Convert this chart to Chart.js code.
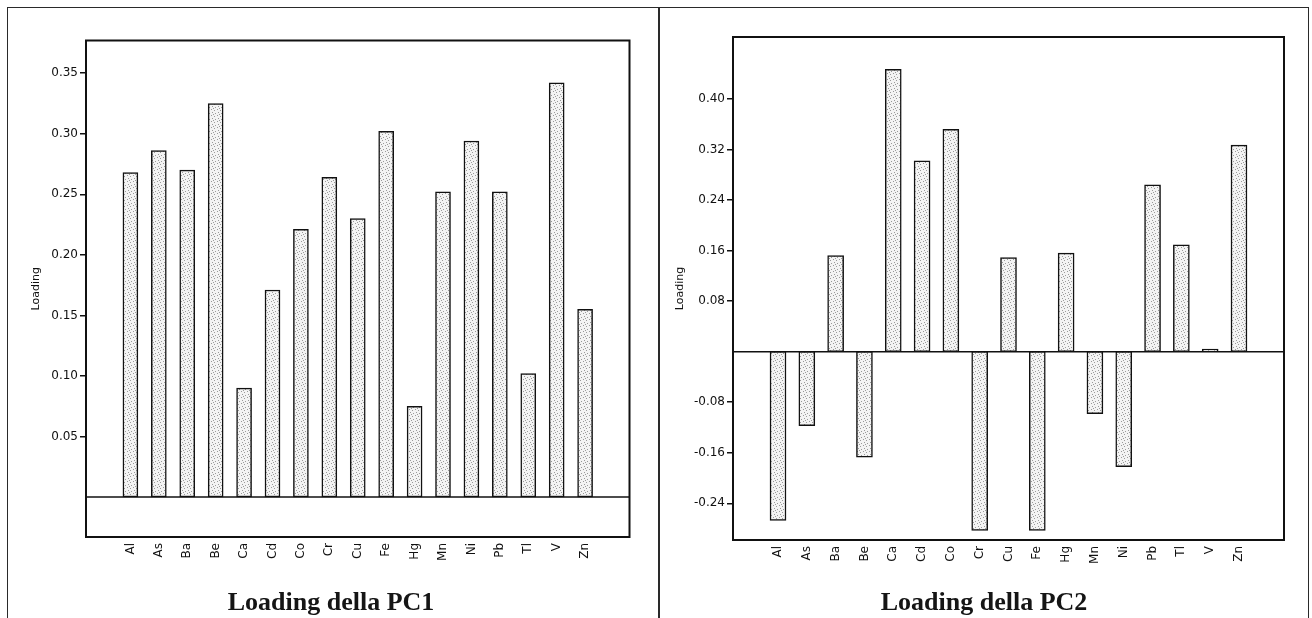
<!DOCTYPE html>
<html>
<head>
<meta charset="utf-8">
<script src="https://cdn.jsdelivr.net/npm/chart.js@4.4.0/dist/chart.umd.min.js"></script>
<style>
    html, body { margin: 0; padding: 0; background: #fff; }
    body { width: 1312px; height: 618px; position: relative; overflow: hidden; }
    .frame { position: absolute; left: 7px; top: 7px; width: 1302px; height: 700px; border: 1.5px solid #2a2a2a; box-sizing: border-box; }
    .divider { position: absolute; left: 658px; top: 7px; width: 1.5px; height: 611px; background: #2a2a2a; }
    canvas { position: absolute; top: 7px; }
    .title {
        position: absolute; top: 589px; line-height: 26px;
        font-family: "Liberation Serif", serif; font-weight: bold; font-size: 26px;
        color: #151515; transform: translateX(-50%); white-space: nowrap;
    }
</style>
</head>
<body>
<div class="frame"></div>
<div class="divider"></div>
<canvas id="pc1" width="651" height="611" style="left:7px"></canvas>
<canvas id="pc2" width="651" height="611" style="left:659px"></canvas>
<div class="title" style="left:331px">Loading della PC1</div>
<div class="title" style="left:984px">Loading della PC2</div>

<script>
// elements (x categories)
const elements = ['Al', 'As', 'Ba', 'Be', 'Ca', 'Cd', 'Co', 'Cr', 'Cu', 'Fe', 'Hg', 'Mn', 'Ni', 'Pb', 'Tl', 'V', 'Zn'];

// loadings
const pc1 = [0.268, 0.286, 0.270, 0.325, 0.090, 0.171, 0.221, 0.264, 0.230, 0.302, 0.075, 0.252, 0.294, 0.252, 0.102, 0.342, 0.155];
const pc2 = [-0.267, -0.117, 0.152, -0.167, 0.447, 0.302, 0.352, -0.283, 0.149, -0.283, 0.156, -0.098, -0.182, 0.264, 0.169, 0.004, 0.327];

// y tick labels
const yTicks1 = [0.05, 0.10, 0.15, 0.20, 0.25, 0.30, 0.35];
const yTicks2 = [-0.24, -0.16, -0.08, 0.08, 0.16, 0.24, 0.32, 0.40];

const INK = '#111';
const TICK_FONT = { family: '"DejaVu Sans", sans-serif', size: 12 };

/**
 * Light stippled fill like the printed bars
 */
function stipple() {
    const c = document.createElement('canvas');
    c.width = 6;
    c.height = 6;
    const g = c.getContext('2d');
    g.fillStyle = '#f3f3f3';
    g.fillRect(0, 0, 6, 6);
    g.fillStyle = '#9a9a9a';
    [[0, 0], [3, 1], [1, 3], [4, 4], [2, 5]].forEach(([x, y]) => g.fillRect(x, y, 1, 1));
    return g.createPattern(c, 'repeat');
}

// frame round the plot area and the zero line
const framePlugin = {
    id: 'frame',
    beforeDatasetsDraw(chart) {
        const { ctx, chartArea: a, scales: { y } } = chart;
        const y0 = y.getPixelForValue(0);
        ctx.save();
        ctx.strokeStyle = INK;
        ctx.lineWidth = 1.5;
        ctx.beginPath();
        ctx.moveTo(a.left, y0);
        ctx.lineTo(a.right, y0);
        ctx.stroke();
        ctx.restore();
    },
    afterDraw(chart) {
        const { ctx, chartArea: a } = chart;
        ctx.save();
        ctx.strokeStyle = INK;
        ctx.lineWidth = 2;
        ctx.strokeRect(a.left, a.top, a.right - a.left, a.bottom - a.top);
        ctx.restore();
    },
};

function makeChart(id, values, yTicks, opts) {
    return new Chart(document.getElementById(id), {
        type: 'bar',
        data: {
            datasets: [{
                data: values.map((v, i) => ({ x: i + 1, y: v })),
                backgroundColor: stipple(),
                borderColor: INK,
                borderWidth: 1.5,
                borderSkipped: false,
                barThickness: opts.barWidth,
            }],
        },
        options: {
            responsive: false,
            devicePixelRatio: 1,
            animation: false,
            layout: { padding: { left: 0, top: opts.top, right: opts.right, bottom: 0 } },
            plugins: { legend: { display: false }, tooltip: { enabled: false } },
            scales: {
                x: {
                    type: 'linear',
                    min: 0,
                    max: elements.length + 1,
                    afterBuildTicks: (s) => { s.ticks = elements.map((_, i) => ({ value: i + 1 })); },
                    afterFit: (s) => { s.height = opts.xHeight; },
                    grid: { display: false, drawTicks: false },
                    border: { display: false },
                    ticks: {
                        callback: (v) => elements[v - 1],
                        minRotation: 90,
                        maxRotation: 90,
                        padding: 6,
                        autoSkip: false,
                        font: TICK_FONT,
                        color: INK,
                    },
                },
                y: {
                    min: opts.min,
                    max: opts.max,
                    afterBuildTicks: (s) => { s.ticks = yTicks.map((v) => ({ value: v })); },
                    afterFit: (s) => { s.width = opts.yWidth; },
                    grid: { drawOnChartArea: false, tickLength: 6, color: INK, lineWidth: 1.5 },
                    border: { display: false },
                    ticks: {
                        callback: (v) => v.toFixed(2),
                        padding: 2,
                        font: TICK_FONT,
                        color: INK,
                    },
                    title: {
                        display: true,
                        text: 'Loading',
                        color: INK,
                        font: { family: '"DejaVu Sans", sans-serif', size: 11 },
                        padding: { top: opts.titlePad, bottom: 0 },
                    },
                },
            },
        },
        plugins: [framePlugin],
    });
}

makeChart('pc1', pc1, yTicks1, {
    min: -0.033, max: 0.377, top: 33.5, right: 28.5, xHeight: 81, yWidth: 79, titlePad: 23, barWidth: 15,
});
makeChart('pc2', pc2, yTicks2, {
    min: -0.298, max: 0.498, top: 30, right: 26, xHeight: 78, yWidth: 74, titlePad: 15, barWidth: 16,
});
</script>
</body>
</html>
